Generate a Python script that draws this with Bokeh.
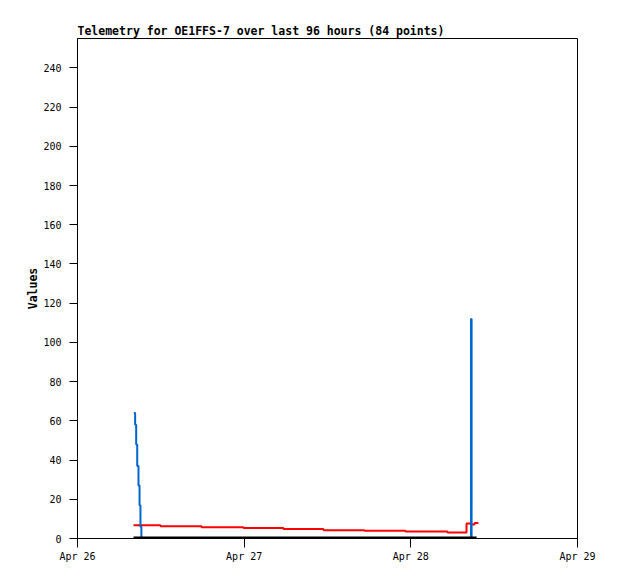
import pandas as pd
from bokeh.plotting import figure
from bokeh.models import FixedTicker, DatetimeTickFormatter, Range1d
from bokeh.embed import file_html
from bokeh.resources import INLINE

# ---- data ----
red_times = ["2024-04-26 08:04", "2024-04-26 11:57", "2024-04-26 17:52", "2024-04-26 23:54",
             "2024-04-27 05:40", "2024-04-27 11:25", "2024-04-27 17:20", "2024-04-27 23:14",
             "2024-04-28 05:17", "2024-04-28 08:01", "2024-04-28 08:35", "2024-04-28 09:10",
             "2024-04-28 09:44"]
red_values = [6.8, 6.3, 5.8, 5.3, 4.8, 4.2, 3.9, 3.6, 3.1, 7.7, 7.2, 7.9, 7.9]

blue_times = ["2024-04-26 08:07", "2024-04-26 08:18", "2024-04-26 08:27", "2024-04-26 08:36",
              "2024-04-26 08:47", "2024-04-26 08:56", "2024-04-26 09:04", "2024-04-26 09:12",
              "2024-04-28 08:40", "2024-04-28 08:45", "2024-04-28 09:28"]
blue_values = [64, 58, 48, 37, 27, 17, 6, 0, 112, 0, 0]

black_times = ["2024-04-26 08:04", "2024-04-27 08:00", "2024-04-28 09:28"]
black_values = [0, 0, 0]

x_ticks = ["2024-04-26", "2024-04-27", "2024-04-28", "2024-04-29"]
y_ticks = [0, 20, 40, 60, 80, 100, 120, 140, 160, 180, 200, 220, 240]

title_text = "Telemetry for OE1FFS-7 over last 96 hours (84 points)"
y_label = "Values"

# ---- figure ----
def ms(ts):
    return pd.Timestamp(ts).value / 1e6

x_tick_ms = [ms(t) for t in x_ticks]

p = figure(x_axis_type="datetime", output_backend="svg", toolbar_location=None,
           frame_width=500, frame_height=500,
           min_border_left=77, min_border_top=38, min_border_right=30, min_border_bottom=30,
           x_range=Range1d(x_tick_ms[0], x_tick_ms[-1]), y_range=Range1d(0, 255))

p.title.text = title_text
p.title.align = "left"
p.title.text_font = "DejaVu Sans Mono"
p.title.text_font_size = "11.5px"
p.title.text_font_style = "bold"
p.title.text_color = "black"
p.title.standoff = 2

p.background_fill_color = "white"
p.border_fill_color = "white"
p.outline_line_color = "black"
p.outline_line_width = 1
p.xgrid.visible = False
p.ygrid.visible = False

for ax in (p.xaxis[0], p.yaxis[0]):
    ax.axis_line_color = "black"
    ax.major_tick_line_color = "black"
    ax.minor_tick_line_color = None
    ax.major_tick_in = 0
    ax.major_label_text_font = "DejaVu Sans Mono"
    ax.major_label_text_font_size = "10px"
    ax.major_label_text_color = "black"

p.xaxis.ticker = FixedTicker(ticks=x_tick_ms)
p.xaxis.formatter = DatetimeTickFormatter(days="%b %d", months="%b %d", hours="%b %d")
p.xaxis.major_tick_out = 9
p.xaxis.major_label_standoff = 3

p.yaxis.ticker = FixedTicker(ticks=y_ticks)
p.yaxis.major_tick_out = 8
p.yaxis.major_label_standoff = 8
p.yaxis.axis_label = y_label
p.yaxis.axis_label_text_font = "DejaVu Sans Mono"
p.yaxis.axis_label_text_font_size = "11.5px"
p.yaxis.axis_label_text_font_style = "bold"
p.yaxis.axis_label_text_color = "black"
p.yaxis.axis_label_standoff = 0

p.step(pd.to_datetime(red_times), red_values, mode="after", line_color="#ff0000", line_width=2)
p.step(pd.to_datetime(blue_times), blue_values, mode="after", line_color="#0066cc", line_width=2)
p.line(pd.to_datetime(black_times), black_values, line_color="black", line_width=4)

open("out.html", "w").write(file_html(p, INLINE))
